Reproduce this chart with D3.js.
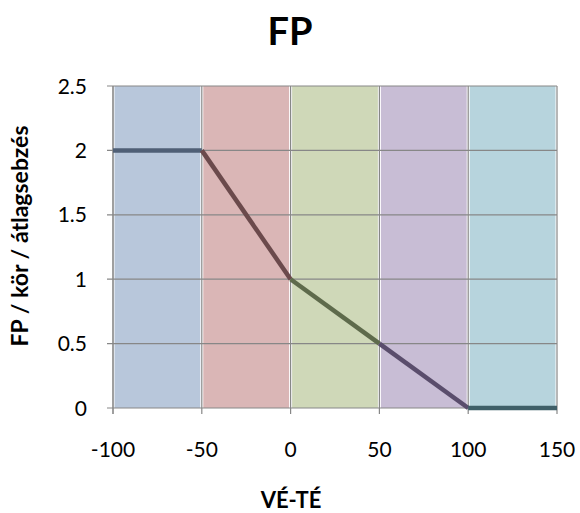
<!DOCTYPE html>
<html>
<head>
<meta charset="utf-8">
<script src="https://cdn.jsdelivr.net/npm/d3@7/dist/d3.min.js"></script>
<style>
  html, body { margin: 0; padding: 0; background: #fff; }
  svg { display: block; font-family: Lato, "Open Sans", "Liberation Sans", sans-serif; }
</style>
</head>
<body>
<svg id="chart" width="580" height="513"></svg>
<script>
// VÉ-TÉ breakpoints and the FP value at each one
const xValues = [-100, -50, 0, 50, 100, 150];
const fpValues = [2, 2, 1, 0.5, 0, 0];

// shaded zones between consecutive breakpoints
const zoneStarts = [-100, -50, 0, 50, 100];
const zoneEnds = [-50, 0, 50, 100, 150];
const zoneFills = ["#b8c7db", "#dab6b6", "#cfd8b8", "#c8bdd5", "#b7d4dd"];
const lineColors = ["#4f5f76", "#6b4a4c", "#5e6a4b", "#5a4d6c", "#3f5f68"];

const xTicks = [-100, -50, 0, 50, 100, 150];
const yTicks = [0, 0.5, 1, 1.5, 2, 2.5];

const svg = d3.select("#chart");
const x = d3.scaleLinear().domain([-100, 150]).range([113, 557]);
const y = d3.scaleLinear().domain([0, 2.5]).range([408, 86]);

// zones
svg.append("g").selectAll("rect")
  .data(zoneStarts.map((s, i) => ({ s, e: zoneEnds[i], fill: zoneFills[i] })))
  .join("rect")
  .attr("x", d => x(d.s) + 1.5)
  .attr("width", d => x(d.e) - x(d.s) - 3)
  .attr("y", y(2.5))
  .attr("height", y(0) - y(2.5))
  .attr("fill", d => d.fill);

// horizontal gridlines
svg.append("g").selectAll("line")
  .data(yTicks)
  .join("line")
  .attr("x1", x(-100) - 6).attr("x2", x(150))
  .attr("y1", d => y(d)).attr("y2", d => y(d))
  .attr("stroke", "#878787").attr("stroke-width", 1.2);

// vertical gridlines
svg.append("g").selectAll("line")
  .data(xTicks)
  .join("line")
  .attr("x1", d => x(d)).attr("x2", d => x(d))
  .attr("y1", y(2.5)).attr("y2", y(0) + 6)
  .attr("stroke", "#878787").attr("stroke-width", d => d === -100 ? 1.6 : 1.2);

// y tick labels
svg.append("g").selectAll("text")
  .data(yTicks)
  .join("text")
  .attr("x", 87).attr("y", d => y(d))
  .attr("dy", "0.36em")
  .attr("text-anchor", "end")
  .attr("font-size", 21)
  .attr("fill", "#000")
  .text(d => d);

// x tick labels
svg.append("g").selectAll("text")
  .data(xTicks)
  .join("text")
  .attr("x", d => x(d)).attr("y", 457)
  .attr("text-anchor", "middle")
  .attr("font-size", 21)
  .attr("fill", "#000")
  .text(d => d);

// FP line, one segment per zone
const line = d3.line().x(d => x(d[0])).y(d => y(d[1]));
const segments = zoneStarts.map((s, i) => ({
  pts: [[xValues[i], fpValues[i]], [xValues[i + 1], fpValues[i + 1]]],
  color: lineColors[i]
}));
svg.append("g").selectAll("path")
  .data(segments)
  .join("path")
  .attr("d", d => line(d.pts))
  .attr("fill", "none")
  .attr("stroke", d => d.color)
  .attr("stroke-width", 4.5)
  .attr("stroke-linecap", "butt");

// titles
svg.append("text")
  .attr("x", 290).attr("y", 45)
  .attr("text-anchor", "middle")
  .attr("font-size", 38).attr("font-weight", "bold")
  .text("FP");

svg.append("text")
  .attr("x", 291).attr("y", 508)
  .attr("text-anchor", "middle")
  .attr("font-size", 22).attr("font-weight", "bold")
  .text("VÉ-TÉ");

svg.append("text")
  .attr("transform", "translate(28,236) rotate(-90)")
  .attr("text-anchor", "middle")
  .attr("font-size", 23).attr("font-weight", "bold")
  .text("FP / kör / átlagsebzés");
</script>
</body>
</html>
